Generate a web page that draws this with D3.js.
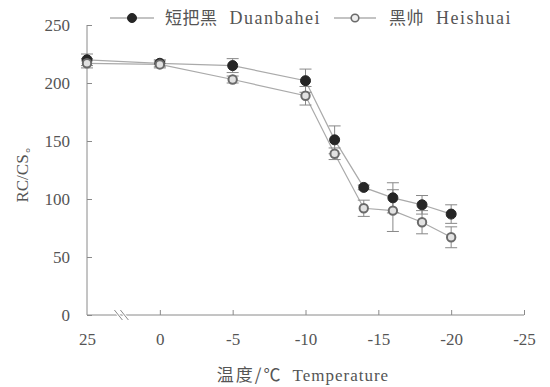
<!DOCTYPE html>
<html><head><meta charset="utf-8">
<script src="https://cdn.jsdelivr.net/npm/d3@7"></script>
<style>body{margin:0;background:#fff}svg{display:block}</style>
</head><body>
<svg id="c" width="550" height="387"></svg>
<script>
// Data
const temps = [25, 0, -5, -10, -12, -14, -16, -18, -20];
const duanbahei = [220, 217, 215, 202, 151, 110, 101, 95, 87];
const duanbaheiErr = [5, 3, 6, 10, 12, 2, 13, 8, 8];
const heishuai = [217, 216, 203, 189, 139, 92, 90, 80, 67];
const heishuaiErr = [4, 3, 3, 8, 5, 7, 18, 10, 9];
const xTickValues = [25, 0, -5, -10, -15, -20, -25];
const xTickLabels = ["25", "0", "-5", "-10", "-15", "-20", "-25"];
const yTickValues = [0, 50, 100, 150, 200, 250];
const seriesNames = ["短把黑 Duanbahei", "黑帅 Heishuai"];

const svg = d3.select("#c");
const serif = "'Liberation Serif','DejaVu Serif',serif";
const cjk = "'Noto Sans CJK SC',sans-serif";
const axisCol = "#8a8a8a", textCol = "#555";

// broken axis: 25 °C shown just left of 0
const brk = t => t > 0 ? 5 : t;
const x = d3.scaleLinear().domain([5, -25]).range([87, 524]);
const y = d3.scaleLinear().domain([0, 250]).range([315, 25]);
const X = t => x(brk(t));

// axes
const yAxis = svg.append("g").attr("transform", "translate(87,0)")
  .call(d3.axisLeft(y).tickValues(yTickValues).tickSize(-5).tickPadding(17));
const xAxis = svg.append("g").attr("transform", "translate(0,315)")
  .call(d3.axisBottom(x).tickValues(xTickValues.map(brk)).tickSize(-5).tickPadding(18)
    .tickFormat((d, i) => xTickLabels[i]));
[yAxis, xAxis].forEach(g => {
  g.attr("font-family", null);
  g.select(".domain").attr("stroke", axisCol).attr("stroke-width", 1);
  g.selectAll(".tick line").attr("stroke", axisCol);
  g.selectAll(".tick text").attr("fill", textCol).style("font-family", serif).style("font-size", "17px");
});
yAxis.select(".domain").attr("d", "M0,25V315");
xAxis.select(".domain").attr("d", "M87,0H524");
xAxis.selectAll(".tick").filter(d => d === 5).select("line").remove();

// axis break marks
const bx = (x(5) + x(0)) / 2 - 2;
[-3, 3].forEach(o => {
  svg.append("line").attr("x1", bx + o - 4).attr("y1", 309).attr("x2", bx + o + 4).attr("y2", 321)
    .attr("stroke", "#fff").attr("stroke-width", 3);
});
[-3, 3].forEach(o => {
  svg.append("line").attr("x1", bx + o - 4).attr("y1", 310).attr("x2", bx + o + 4).attr("y2", 320)
    .attr("stroke", axisCol).attr("stroke-width", 1);
});

// series
const series = [
  {vals: duanbahei, err: duanbaheiErr, filled: true},
  {vals: heishuai, err: heishuaiErr, filled: false}
];
const line = d3.line().x((d, i) => X(temps[i])).y(d => y(d));
series.forEach(s => {
  svg.append("path").datum(s.vals).attr("d", line).attr("fill", "none")
    .attr("stroke", "#aaa").attr("stroke-width", 1.2);
});
series.forEach(s => {
  const g = svg.append("g");
  s.vals.forEach((v, i) => {
    const cx = X(temps[i]);
    const top = y(v + s.err[i]), bot = y(v - s.err[i]);
    g.append("line").attr("x1", cx).attr("x2", cx).attr("y1", top).attr("y2", bot).attr("stroke", "#888");
    [top, bot].forEach(yy => g.append("line").attr("x1", cx - 6).attr("x2", cx + 6)
      .attr("y1", yy).attr("y2", yy).attr("stroke", "#888"));
  });
});
series.forEach(s => {
  svg.append("g").selectAll("circle").data(s.vals).join("circle")
    .attr("cx", (d, i) => X(temps[i])).attr("cy", d => y(d))
    .attr("r", s.filled ? 5 : 4.2)
    .attr("fill", s.filled ? "#262626" : "#e2e2e2")
    .attr("stroke", s.filled ? "#262626" : "#6a6a6a")
    .attr("stroke-width", s.filled ? 1 : 2);
});

// legend
const leg = [
  {x1: 110, x2: 154, name: seriesNames[0], filled: true, tx: 165},
  {x1: 334, x2: 376, name: seriesNames[1], filled: false, tx: 389}
];
leg.forEach(l => {
  svg.append("line").attr("x1", l.x1).attr("x2", l.x2).attr("y1", 18).attr("y2", 18)
    .attr("stroke", "#888").attr("stroke-width", 1.2);
  svg.append("circle").attr("cx", (l.x1 + l.x2) / 2).attr("cy", 18).attr("r", l.filled ? 4.5 : 3.8)
    .attr("fill", l.filled ? "#262626" : "#eee").attr("stroke", l.filled ? "#262626" : "#6a6a6a")
    .attr("stroke-width", l.filled ? 1 : 1.6);
  const parts = l.name.split(" ");
  const t = svg.append("text").attr("x", l.tx).attr("y", 24).attr("fill", "#555").style("font-size", "17px");
  t.append("tspan").style("font-family", cjk).style("letter-spacing", "0.5px").text(parts[0]);
  t.append("tspan").style("font-family", serif).style("font-size", "18px").style("letter-spacing", "1.5px")
    .attr("dx", 12).text(parts[1]);
});

// axis titles
svg.append("text").attr("transform", "translate(28,170) rotate(-90)").attr("text-anchor", "middle")
  .attr("fill", textCol).style("font-family", serif).style("font-size", "17px").text("RC/CS。");
const xt = svg.append("text").attr("x", 303).attr("y", 381).attr("text-anchor", "middle")
  .attr("fill", textCol).style("font-size", "17px");
xt.append("tspan").style("font-family", cjk).style("letter-spacing", "2px").text("温度/℃");
xt.append("tspan").style("font-family", serif).style("letter-spacing", "1px").attr("dx", 10).text("Temperature");
</script>
</body></html>
